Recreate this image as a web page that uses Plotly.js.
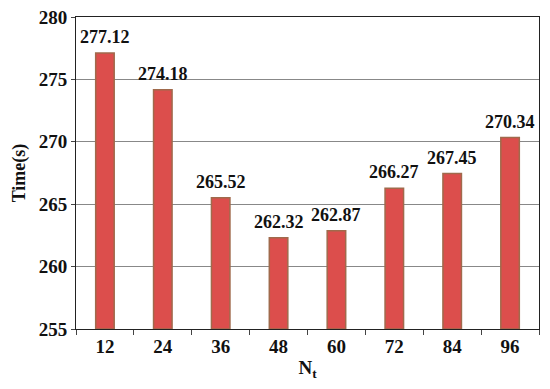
<!DOCTYPE html>
<html>
<head>
<meta charset="utf-8">
<script src="https://cdn.plot.ly/plotly-3.0.1.min.js"></script>
<style>html,body{margin:0;padding:0;background:#fff;}#chart{width:550px;height:389px;}</style>
</head>
<body>
<div id="chart"></div>
<script>
const categories = ["12", "24", "36", "48", "60", "72", "84", "96"];
const times = [277.12, 274.18, 265.52, 262.32, 262.87, 266.27, 267.45, 270.34];
const yTicks = [255, 260, 265, 270, 275, 280];
const axisFloor = 255;

const font = "'Liberation Serif', 'Times New Roman', serif";

const trace = {
  type: "bar",
  x: categories,
  y: times.map(v => v - axisFloor),
  base: axisFloor,
  marker: { color: "#dc4e4c", line: { color: "#a06a4c", width: 1.5 } },
  hoverinfo: "none"
};

// labels placed by category index on the category axis
const labels = categories.map((c, i) => ({
  x: i, y: times[i], xref: "x", yref: "y",
  text: "<b>" + times[i].toFixed(2) + "</b>",
  showarrow: false, yanchor: "bottom", yshift: 4,
  font: { family: font, size: 18, color: "#111" }
}));

const layout = {
  width: 550, height: 389,
  margin: { l: 76, r: 11, t: 17, b: 60 },
  paper_bgcolor: "#fff", plot_bgcolor: "#fff",
  showlegend: false,
  bargap: 0.68,
  font: { family: font, color: "#111" },
  annotations: labels,
  xaxis: {
    type: "category",
    categoryarray: categories, categoryorder: "array",
    range: [-0.5, categories.length - 0.5],
    showline: true, linecolor: "#222", linewidth: 1, mirror: true,
    ticks: "outside", tickson: "boundaries", ticklen: 5, tickcolor: "#444",
    tickfont: { family: font, size: 19, color: "#111", weight: "bold" },
    title: { text: "<b>N<sub>t</sub></b>", font: { family: font, size: 19, color: "#111" }, standoff: 4 },
    showgrid: false
  },
  yaxis: {
    range: [255, 280],
    tickvals: yTicks,
    ticktext: yTicks.map(String),
    showline: true, linecolor: "#222", linewidth: 1, mirror: true,
    ticks: "outside", ticklen: 4, tickcolor: "#444",
    showgrid: true, gridcolor: "#888", gridwidth: 1,
    zeroline: false,
    tickfont: { family: font, size: 19, color: "#111", weight: "bold" },
    title: { text: "<b>Time(s)</b>", font: { family: font, size: 18, color: "#111" }, standoff: 8 }
  }
};

Plotly.newPlot("chart", [trace], layout, { displayModeBar: false, staticPlot: true });
</script>
</body>
</html>
